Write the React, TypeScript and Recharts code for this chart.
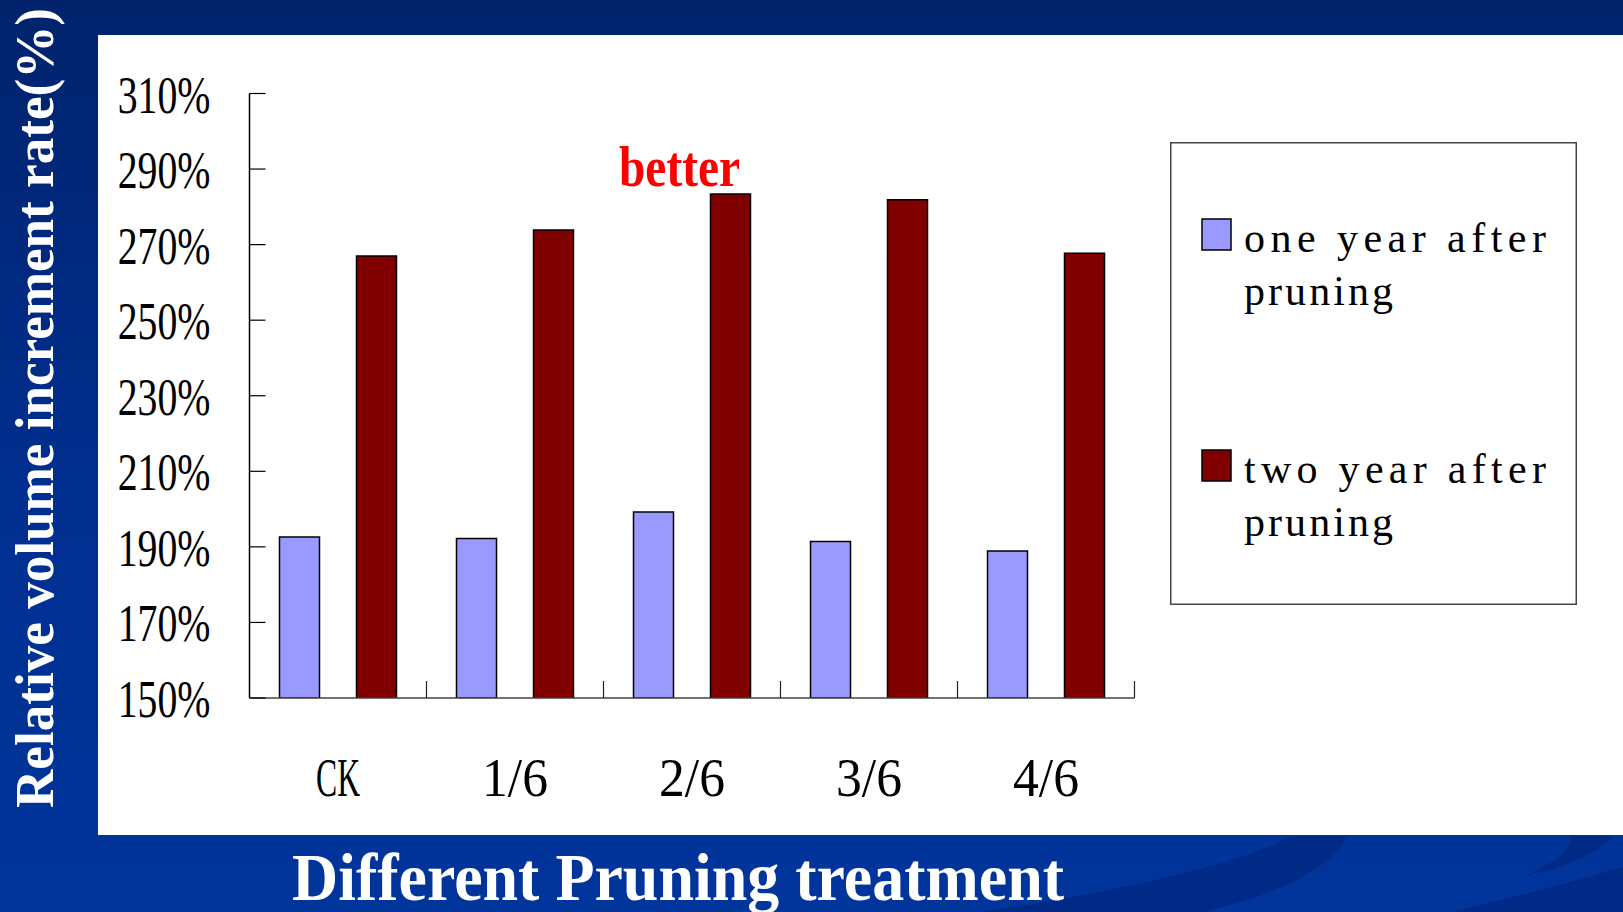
import React from 'react';
import { BarChart, Bar, XAxis, YAxis, Legend, LabelList } from 'recharts';

const categories = ['CK', '1/6', '2/6', '3/6', '4/6'];
const oneYearAfter = [192.6, 192.2, 199.2, 191.4, 188.9];
const twoYearAfter = [267.0, 273.9, 283.4, 281.9, 267.7];
const notes = ['', '', 'better', '', ''];
const yTicks = [150, 170, 190, 210, 230, 250, 270, 290, 310];
const seriesNames = ['one year after pruning', 'two year after pruning'];

const data = categories.map((name, i) => ({
  name,
  one: oneYearAfter[i],
  two: twoYearAfter[i],
  note: notes[i],
}));

const W = 1623;
const H = 912;
const SERIF = "'Liberation Serif', 'Times New Roman', serif";

function YTick(props: any) {
  const { x, y, payload } = props;
  const label = `${payload.value}%`;
  return (
    <text
      x={x}
      y={y + 19}
      textAnchor="end"
      fontFamily={SERIF}
      fontSize={52}
      fill="#000"
      textLength={label.length * 23.2}
      lengthAdjust="spacingAndGlyphs"
    >
      {label}
    </text>
  );
}

// category label, plus the small divider tick at the right edge of each band
function XTick(props: any) {
  const { x, y, payload } = props;
  const label = String(payload.value);
  const half = payload.offset || 0;
  return (
    <g>
      {half > 0 && (
        <line x1={x + half} x2={x + half} y1={y} y2={y - 17} stroke="#222" strokeWidth={1.2} />
      )}
      <text
        x={x}
        y={y + 98}
        textAnchor="middle"
        fontFamily={SERIF}
        fontSize={54}
        fill="#000"
        textLength={label.length * 22}
        lengthAdjust="spacingAndGlyphs"
      >
        {label}
      </text>
    </g>
  );
}

function NoteLabel(props: any) {
  const vb = props.viewBox || props;
  const { value } = props;
  if (!value) return null;
  return (
    <text
      x={vb.x + vb.width / 2 - 51}
      y={vb.y - 8}
      textAnchor="middle"
      fontFamily={SERIF}
      fontWeight="bold"
      fontSize={56}
      fill="#ff0000"
      textLength={121}
      lengthAdjust="spacingAndGlyphs"
    >
      {value}
    </text>
  );
}

function LegendBox(props: any) {
  const payload = props.payload || [];
  return (
    <svg width={407} height={463} style={{ display: 'block' }}>
      <rect x={0.75} y={0.75} width={405.5} height={461.5} fill="#fff" stroke="#444" strokeWidth={1.5} />
      {payload.map((p: any, i: number) => {
        const words = String(p.value).split(' ');
        const line1 = words.slice(0, 3).join(' ');
        const line2 = words.slice(3).join(' ');
        const top = 77 + i * 231;
        return (
          <g key={i}>
            <rect x={32} y={top} width={29} height={31} fill={p.color} stroke="#000" strokeWidth={1.5} />
            <text x={74} y={top + 33} fontFamily={SERIF} fontSize={42} fill="#000"
              textLength={line1.length * 21.85 - 4} lengthAdjust="spacing">{line1}</text>
            <text x={74} y={top + 86} fontFamily={SERIF} fontSize={42} fill="#000"
              textLength={line2.length * 21.85 - 4} lengthAdjust="spacing">{line2}</text>
          </g>
        );
      })}
    </svg>
  );
}

export default function App() {
  return (
    <div style={{ position: 'absolute', left: 0, top: 0, width: W, height: H, overflow: 'hidden' }}>
      <svg width={W} height={H} style={{ position: 'absolute', left: 0, top: 0 }}>
        <defs>
          <linearGradient id="bg" x1="0" y1="0" x2="0" y2="1">
            <stop offset="0" stopColor="#00236c" />
            <stop offset="0.55" stopColor="#002f90" />
            <stop offset="1" stopColor="#00359c" />
          </linearGradient>
        </defs>
        <rect x={0} y={0} width={W} height={H} fill="url(#bg)" />
        <path d="M 980 912 C 1100 895 1230 868 1292 836 L 1348 836 C 1322 878 1262 897 1205 912 Z" fill="#002a85" />
        <path d="M 1525 876 C 1560 860 1573 848 1570 836 L 1613 836 C 1600 852 1570 866 1525 876 Z" fill="#002a85" />
        <path d="M 1452 912 C 1520 896 1580 880 1623 867 L 1623 912 Z" fill="#002a85" />
        <rect x={98} y={35} width={W - 98} height={800} fill="#fff" />
        <text
          x={53}
          y={408}
          transform="rotate(-90 53 408)"
          textAnchor="middle"
          fontFamily={SERIF}
          fontWeight="bold"
          fontSize={54}
          fill="#fff"
          textLength={800}
          lengthAdjust="spacingAndGlyphs"
        >
          Relative volume increment rate(%)
        </text>
        <text
          x={678}
          y={900}
          textAnchor="middle"
          fontFamily={SERIF}
          fontWeight="bold"
          fontSize={68}
          fill="#fff"
          textLength={772}
          lengthAdjust="spacingAndGlyphs"
        >
          Different Pruning treatment
        </text>
      </svg>
      <div style={{ position: 'absolute', left: 0, top: 0 }}>
        <BarChart
          width={W}
          height={H}
          data={data}
          barSize={40}
          barGap={37}
          margin={{ top: 93.5, right: 488.5, left: 99.5, bottom: 114 }}
        >
          <XAxis
            dataKey="name"
            height={100}
            axisLine={{ stroke: '#444', strokeWidth: 1.5 }}
            tickLine={false}
            tickSize={0}
            tickMargin={0}
            interval={0}
            tick={<XTick />}
          />
          <YAxis
            width={150}
            domain={[150, 310]}
            allowDataOverflow
            ticks={yTicks}
            interval={0}
            tickSize={-16}
            tickMargin={55}
            axisLine={{ stroke: '#000', strokeWidth: 1.5 }}
            tickLine={{ stroke: '#000', strokeWidth: 1.2 }}
            tick={<YTick />}
          />
          <Legend
            layout="vertical"
            align="center"
            verticalAlign="middle"
            content={<LegendBox />}
            wrapperStyle={{ left: 1170, top: 142, width: 407, height: 463 }}
          />
          <Bar dataKey="one" name={seriesNames[0]} fill="#9999ff" stroke="#000" strokeWidth={1.5} isAnimationActive={false} />
          <Bar dataKey="two" name={seriesNames[1]} fill="#800000" stroke="#000" strokeWidth={1.5} isAnimationActive={false}>
            <LabelList dataKey="note" content={<NoteLabel />} />
          </Bar>
        </BarChart>
      </div>
    </div>
  );
}
